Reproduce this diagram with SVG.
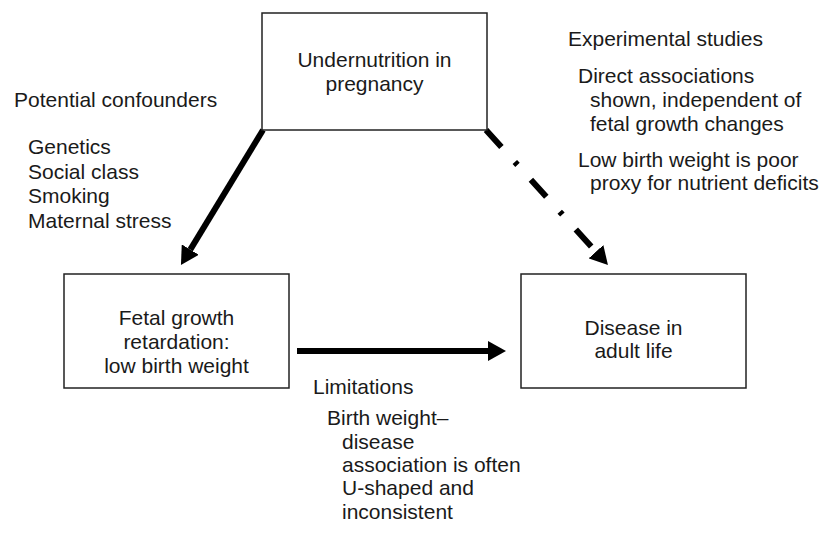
<svg xmlns="http://www.w3.org/2000/svg" width="822" height="540" viewBox="0 0 822 540">
<style>
text{font-family:"Liberation Sans",Arial,sans-serif;font-size:21px;fill:#1a1a1a}
.box{fill:#fff;stroke:#222;stroke-width:1.5}
.c{text-anchor:middle}
.arr{fill:none;stroke:#000;stroke-width:6}
.dash{stroke-dasharray:23 20 4 20}
</style>
<defs>
<marker id="ah" viewBox="0 0 18 20" refX="0" refY="10" markerWidth="18" markerHeight="20" markerUnits="userSpaceOnUse" orient="auto">
<path d="M0,0 L18,10 L0,20 Z" fill="#000"/>
</marker>
</defs>
<rect width="822" height="540" fill="#fff"/>
<g id="connectors">
<line class="arr" x1="263" y1="130" x2="190.3" y2="249.6" marker-end="url(#ah)"/>
<line class="arr dash" x1="486" y1="130" x2="595.9" y2="251.7" marker-end="url(#ah)"/>
<line class="arr" x1="297" y1="351" x2="488" y2="351" marker-end="url(#ah)"/>
</g>
<g id="undernutrition">
<rect class="box" x="262" y="13" width="225" height="117"/>
<text class="c" x="374.5" y="67">Undernutrition in</text>
<text class="c" x="374.5" y="91">pregnancy</text>
</g>
<g id="fetal-growth">
<rect class="box" x="64" y="274" width="225" height="114"/>
<text class="c" x="176.5" y="325">Fetal growth</text>
<text class="c" x="176.5" y="349">retardation:</text>
<text class="c" x="176.5" y="373">low birth weight</text>
</g>
<g id="disease">
<rect class="box" x="521" y="274" width="225" height="114"/>
<text class="c" x="633.5" y="335">Disease in</text>
<text class="c" x="633.5" y="358">adult life</text>
</g>
<g id="confounders">
<text x="14" y="107">Potential confounders</text>
<text x="28" y="154">Genetics</text>
<text x="28" y="179">Social class</text>
<text x="28" y="203">Smoking</text>
<text x="28" y="228">Maternal stress</text>
</g>
<g id="experimental">
<text x="568" y="46">Experimental studies</text>
<text x="578" y="83">Direct associations</text>
<text x="590" y="107">shown, independent of</text>
<text x="590" y="131">fetal growth changes</text>
<text x="578" y="167">Low birth weight is poor</text>
<text x="590" y="190">proxy for nutrient deficits</text>
</g>
<g id="limitations">
<text x="313" y="394">Limitations</text>
<text x="327" y="425">Birth weight–</text>
<text x="342" y="449">disease</text>
<text x="342" y="472">association is often</text>
<text x="342" y="495">U-shaped and</text>
<text x="342" y="519">inconsistent</text>
</g>
</svg>
